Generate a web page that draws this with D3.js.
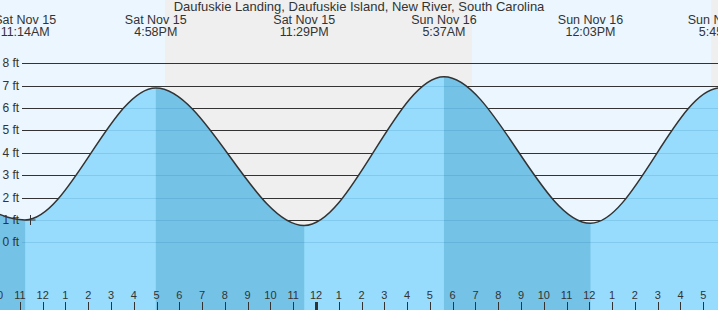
<!DOCTYPE html>
<html>
<head>
<meta charset="utf-8">
<script src="https://cdn.jsdelivr.net/npm/d3@7"></script>
<style>
  html, body { margin: 0; padding: 0; background: #fff; }
  svg { display: block; font-family: "Liberation Sans", Arial, sans-serif; }
</style>
</head>
<body>
<svg id="chart" width="718" height="310"></svg>
<script>
// Tide chart - Daufuskie Landing
const title = 'Daufuskie Landing, Daufuskie Island, New River, South Carolina';

// tide extremes (high / low), local time
const tideTimes = ['2025-11-15 04:50', '2025-11-15 11:14', '2025-11-15 16:58', '2025-11-15 23:29',
                   '2025-11-16 05:37', '2025-11-16 12:03', '2025-11-16 17:45', '2025-11-17 00:10'];
const tideLevels = [6.6, 1.0, 6.9, 0.75, 7.4, 0.85, 6.9, 0.9];

// night shading (sunset -> sunrise)
const nightStarts = ['2025-11-15 17:22', '2025-11-16 17:21'];
const nightEnds = ['2025-11-16 06:51', '2025-11-17 06:52'];

const feetTicks = [0, 1, 2, 3, 4, 5, 6, 7, 8];
const viewStart = '2025-11-15 10:07:40';
const viewEnd = '2025-11-16 17:38:50';
const nowTime = '2025-11-15 11:27';
const nowLevel = 1.0;

const parse = s => d3.timeParse('%Y-%m-%d %H:%M:%S')(s.length === 16 ? s + ':00' : s);
const tides = tideTimes.map((t, i) => ({ time: parse(t), level: tideLevels[i] }));

const width = 718, height = 310;
const svg = d3.select('#chart');

const x = d3.scaleTime().domain([parse(viewStart), parse(viewEnd)]).range([0, width]);
const y = d3.scaleLinear().domain([0, 8]).range([242.3, 63.3]);

// sky
svg.append('rect').attr('width', width).attr('height', height).attr('fill', '#ebf6fe');
svg.selectAll('.night')
  .data(nightStarts.map((s, i) => ({ start: parse(s), end: parse(nightEnds[i]) })))
  .enter().append('rect')
  .attr('x', d => x(d.start))
  .attr('y', 0)
  .attr('width', d => x(d.end) - x(d.start))
  .attr('height', height)
  .attr('fill', '#efefef');

// grid lines
svg.append('g').selectAll('line')
  .data(feetTicks)
  .enter().append('line')
  .attr('x1', 22).attr('x2', width)
  .attr('y1', d => Math.round(y(d)) + 0.5)
  .attr('y2', d => Math.round(y(d)) + 0.5)
  .attr('stroke', '#333')
  .attr('stroke-width', 1);

// water
const area = d3.area()
  .x(d => x(d.time))
  .y0(height)
  .y1(d => y(d.level))
  .curve(d3.curveMonotoneX);

const line = d3.line()
  .x(d => x(d.time))
  .y(d => y(d.level))
  .curve(d3.curveMonotoneX);

svg.append('clipPath').attr('id', 'water-clip')
  .append('path').attr('d', area(tides));

const water = svg.append('g').attr('clip-path', 'url(#water-clip)');
water.append('rect').attr('width', width).attr('height', height).attr('fill', '#97dcfc');

// falling tide bands (high -> low) darker
const falling = [];
tides.forEach((d, i) => {
  if (i < tides.length - 1 && d.level > tides[i + 1].level) falling.push({ start: d.time, end: tides[i + 1].time });
});
water.selectAll('.fall')
  .data(falling)
  .enter().append('rect')
  .attr('x', d => x(d.start))
  .attr('y', 0)
  .attr('width', d => x(d.end) - x(d.start))
  .attr('height', height)
  .attr('fill', '#74c2e6');

water.selectAll('line')
  .data(feetTicks)
  .enter().append('line')
  .attr('x1', 22).attr('x2', width)
  .attr('y1', d => Math.round(y(d)) + 0.5)
  .attr('y2', d => Math.round(y(d)) + 0.5)
  .attr('stroke', 'rgba(0,90,150,0.14)')
  .attr('stroke-width', 1);

svg.append('path')
  .attr('d', line(tides))
  .attr('fill', 'none')
  .attr('stroke', '#333')
  .attr('stroke-width', 1.5);

// foot labels on top of the water
svg.append('g').selectAll('text')
  .data(feetTicks)
  .enter().append('text')
  .attr('x', 2.5)
  .attr('y', d => y(d) + 4)
  .attr('font-size', '12px')
  .attr('fill', '#333')
  .text(d => `${d} ft`);

// current time marker
const nx = Math.round(x(parse(nowTime))) + 0.5, ny = Math.round(y(nowLevel));
svg.append('path')
  .attr('d', `M${nx - 5},${ny}H${nx + 5}M${nx},${ny - 5}V${ny + 5}`)
  .attr('stroke', '#333')
  .attr('stroke-width', 1);

// hour axis
const hours = d3.timeHour.range(d3.timeHour.floor(x.domain()[0]), x.domain()[1]);
const axis = svg.append('g');
axis.selectAll('line')
  .data(hours)
  .enter().append('line')
  .attr('x1', d => Math.round(x(d)) + 0.5)
  .attr('x2', d => Math.round(x(d)) + 0.5)
  .attr('y1', 302)
  .attr('y2', height)
  .attr('stroke', '#333')
  .attr('stroke-width', d => d.getHours() === 0 ? 3 : 1);

axis.selectAll('text')
  .data(hours)
  .enter().append('text')
  .attr('x', d => x(d))
  .attr('y', 299)
  .attr('text-anchor', 'middle')
  .attr('font-size', '11px')
  .attr('fill', '#333')
  .text(d3.timeFormat('%-I'));

// tide labels
const fmtDay = d3.timeFormat('%a %b %-d');
const fmtTime = d3.timeFormat('%-I:%M%p');
const labels = svg.selectAll('.tide-label')
  .data(tides)
  .enter().append('text')
  .attr('class', 'tide-label')
  .attr('text-anchor', 'middle')
  .attr('font-size', '12.5px')
  .attr('fill', '#333');
labels.append('tspan').attr('x', d => x(d.time)).attr('y', 24).text(d => fmtDay(d.time));
labels.append('tspan').attr('x', d => x(d.time)).attr('y', 36).text(d => fmtTime(d.time));

svg.append('text')
  .attr('x', width / 2)
  .attr('y', 11)
  .attr('text-anchor', 'middle')
  .attr('font-size', '13px')
  .attr('fill', '#333')
  .text(title);
</script>
</body>
</html>
